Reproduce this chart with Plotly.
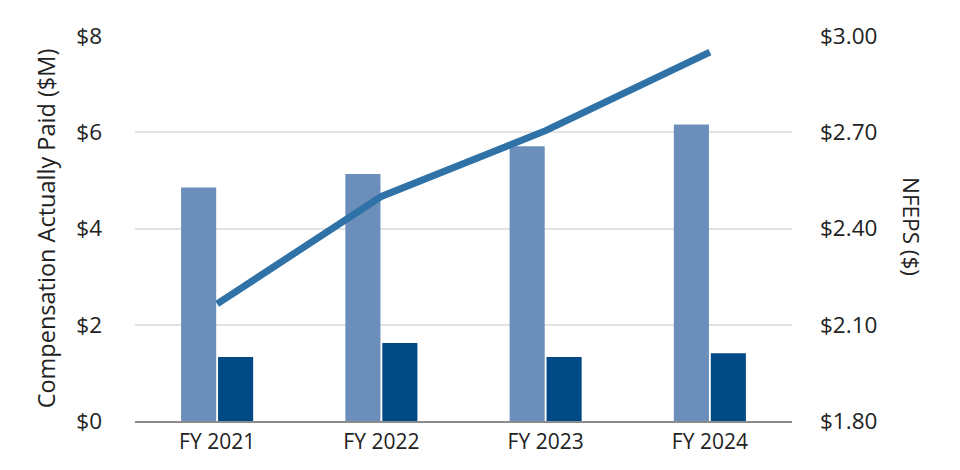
import plotly.graph_objects as go

categories = ["FY 2021", "FY 2022", "FY 2023", "FY 2024"]
cap_peo = [4.85, 5.13, 5.71, 6.16]
cap_neo = [1.33, 1.62, 1.33, 1.41]
nfeps = [2.165, 2.50, 2.705, 2.95]

left_ticks = [0, 2, 4, 6, 8]
right_ticks = [1.80, 2.10, 2.40, 2.70, 3.00]

FONT = "'Open Sans', Lato, sans-serif"

# page has 8px body margin; plot area target in page px: x 135..792, y 30..421
L, R, T, B = 127, 176, 22, 57
W, H = 960, 470
pw = W - L - R
ph = H - T - B

fig = go.Figure()
fig.add_trace(go.Bar(x=categories, y=cap_peo, marker=dict(color="#6b8fba", line=dict(width=0)),
                     name="PEO CAP", showlegend=False))
fig.add_trace(go.Bar(x=categories, y=cap_neo, marker=dict(color="#024a85", line=dict(width=0)),
                     name="Avg NEO CAP", showlegend=False))
fig.add_trace(go.Scatter(x=categories, y=nfeps, yaxis="y2", mode="lines",
                         line=dict(color="#2f72a8", width=7), name="NFEPS", showlegend=False))

fig.update_layout(
    width=W, height=H,
    margin=dict(l=L, r=R, t=T, b=B),
    paper_bgcolor="white", plot_bgcolor="white",
    barmode="group", bargap=0.55, bargroupgap=0.05,
    font=dict(family=FONT, color="#222222"),
    xaxis=dict(showgrid=False, showline=True, linecolor="#8c8c8c", linewidth=2,
               ticks="", tickfont=dict(size=21, color="#222222"), range=[-0.5, 3.5],
               ticklabelstandoff=1),
    yaxis=dict(range=[0, 8], tickvals=left_ticks, ticktext=["$" + str(v) for v in left_ticks],
               showgrid=True, gridcolor="#e3e3e3", gridwidth=1.5, zeroline=False,
               tickfont=dict(size=22.5, color="#222222"), ticklabelstandoff=32,
               title=dict(text="Compensation Actually Paid ($M)", font=dict(size=23.5, color="#222222"),
                          standoff=14)),
    yaxis2=dict(range=[1.8, 3.0], tickvals=right_ticks, ticktext=["$%.2f" % v for v in right_ticks],
                overlaying="y", side="right", showgrid=False, zeroline=False,
                tickfont=dict(size=22.5, color="#222222"), ticklabelstandoff=27),
    annotations=[dict(text="NFEPS ($)", x=(912 - 135) / pw, y=(421 - 223) / ph,
                      xref="paper", yref="paper",
                      showarrow=False, textangle=90, font=dict(size=22.5, color="#222222"),
                      xanchor="center", yanchor="middle")],
)

fig.write_html("out.html")
